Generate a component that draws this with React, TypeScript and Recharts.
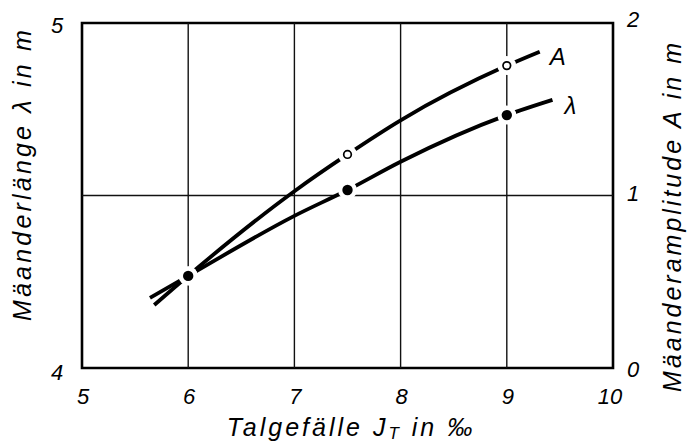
import React from "react";
import {
  ComposedChart,
  Line,
  XAxis,
  YAxis,
  ReferenceLine,
  ReferenceArea,
  LabelList,
} from "recharts";

// x-axis: Talgefälle J_T in ‰
const xTicks = [5, 6, 7, 8, 9, 10];
const xGrid = [6, 7, 8, 9];
const leftTicks = [4, 5];
const rightTicks = [0, 1, 2];

// Mäanderamplitude A (right axis)
const jtA = [5.68, 6, 7, 7.5, 8, 9, 9.31];
const amplitudeA = [0.365, 0.535, 1.025, 1.238, 1.436, 1.753, 1.834];
const markA = [0, 2, 0, 1, 0, 1, 0]; // 0 none, 1 open circle, 2 gap only

// Mäanderlänge λ (left axis)
const jtL = [5.64, 6, 7, 7.5, 8, 9, 9.43];
const lengthL = [4.203, 4.267, 4.441, 4.516, 4.598, 4.733, 4.777];
const markL = [0, 3, 0, 3, 0, 3, 0]; // 3 filled dot

const dataA = jtA.map((x, i) => ({ x, y: amplitudeA[i], m: markA[i] }));
const dataL = jtL.map((x, i) => ({ x, y: lengthL[i], m: markL[i] }));

const FONT = "'Liberation Sans', Arial, sans-serif";

const markerLabel = (marks: number[]) => (props: any) => {
  const { x, y, index } = props;
  const m = marks[index] ?? 0;
  if (!m || x == null || y == null) return null;
  return (
    <g>
      <circle cx={x} cy={y} r={9.5} fill="#fff" stroke="none" />
      {m === 1 && <circle cx={x} cy={y} r={3.8} fill="#fff" stroke="#000" strokeWidth={1.7} />}
      {m === 3 && <circle cx={x} cy={y} r={5.2} fill="#000" stroke="none" />}
    </g>
  );
};

const renderXTick = (props: any) => {
  const { x, payload } = props;
  const dx = payload.value === 10 ? -3 : 1;
  return (
    <text x={x + dx} y={396} textAnchor="middle" dominantBaseline="central"
      fontFamily={FONT} fontStyle="italic" fontSize={22} fill="#000">
      {payload.value}
    </text>
  );
};

const renderLeftTick = (props: any) => {
  const { y, payload } = props;
  const off = payload.value === 5 ? 2 : 4;
  return (
    <text x={57} y={y + off} textAnchor="middle" dominantBaseline="central"
      fontFamily={FONT} fontStyle="italic" fontSize={22} fill="#000">
      {payload.value}
    </text>
  );
};

const renderRightTick = (props: any) => {
  const { y, payload } = props;
  const off = payload.value === 2 ? -4 : payload.value === 1 ? -2 : 1;
  return (
    <text x={633} y={y + off} textAnchor="middle" dominantBaseline="central"
      fontFamily={FONT} fontStyle="italic" fontSize={22} fill="#000">
      {payload.value}
    </text>
  );
};

const endLabel = (name: string, dx: number, dy: number, count: number) => (props: any) => {
  const { x, y, index } = props;
  if (index !== count - 1) return null;
  return (
    <text x={x + dx} y={y + dy} textAnchor="middle" dominantBaseline="central"
      fontFamily={FONT} fontStyle="italic" fontSize={24} fill="#000">
      {name}
    </text>
  );
};

export default function App() {
  return (
    <div style={{ position: "absolute", left: 0, top: 0, background: "#fff" }}>
      <ComposedChart width={696} height={443} margin={{ top: 23, right: 0, bottom: 0, left: 0 }}>
        <XAxis
          dataKey="x"
          type="number"
          domain={[5, 10]}
          ticks={xTicks}
          height={75}
          axisLine={false}
          tickLine={false}
          tick={renderXTick}
          allowDuplicatedCategory={false}
          label={{
            content: () => (
              <text x={351} y={427} textAnchor="middle" dominantBaseline="central"
                fontFamily={FONT} fontStyle="italic" fontSize={25} letterSpacing={3} fill="#000">
                Talgefälle J
                <tspan fontSize={17} dy={6}>T</tspan>
                <tspan dy={-6}>{" in ‰"}</tspan>
              </text>
            ),
          }}
        />
        <YAxis
          yAxisId="left"
          orientation="left"
          type="number"
          domain={[4, 5]}
          ticks={leftTicks}
          width={82}
          axisLine={false}
          tickLine={false}
          tick={renderLeftTick}
          label={{
            content: () => (
              <text x={0} y={0} transform="translate(22,174) rotate(-90)" textAnchor="middle"
                dominantBaseline="central" fontFamily={FONT} fontStyle="italic" fontSize={25}
                letterSpacing={3.2} fill="#000">
                Mäanderlänge λ in m
              </text>
            ),
          }}
        />
        <YAxis
          yAxisId="right"
          orientation="right"
          type="number"
          domain={[0, 2]}
          ticks={rightTicks}
          width={83}
          axisLine={false}
          tickLine={false}
          tick={renderRightTick}
          label={{
            content: () => (
              <text x={0} y={0} transform="translate(672,216) rotate(-90)" textAnchor="middle"
                dominantBaseline="central" fontFamily={FONT} fontStyle="italic" fontSize={25}
                letterSpacing={3} fill="#000">
                Mäanderamplitude A in m
              </text>
            ),
          }}
        />
        {xGrid.map((v) => (
          <ReferenceLine key={v} x={v} yAxisId="left" stroke="#111" strokeWidth={1.4} />
        ))}
        <ReferenceLine y={1} yAxisId="right" stroke="#111" strokeWidth={1.4} />
        <ReferenceArea x1={5} x2={10} y1={4} y2={5} yAxisId="left" fill="none"
          stroke="#000" strokeWidth={2.6} fillOpacity={0} />
        <Line
          data={dataA}
          dataKey="y"
          yAxisId="right"
          type="monotone"
          stroke="#000"
          strokeWidth={3.8}
          dot={false}
          activeDot={false}
          isAnimationActive={false}
        >
          <LabelList dataKey="y" content={markerLabel(markA)} />
          <LabelList dataKey="y" content={endLabel("A", 18, 5, dataA.length)} />
        </Line>
        <Line
          data={dataL}
          dataKey="y"
          yAxisId="left"
          type="monotone"
          stroke="#000"
          strokeWidth={3.8}
          dot={false}
          activeDot={false}
          isAnimationActive={false}
        >
          <LabelList dataKey="y" content={markerLabel(markL)} />
          <LabelList dataKey="y" content={endLabel("λ", 18, 6, dataL.length)} />
        </Line>
      </ComposedChart>
    </div>
  );
}
